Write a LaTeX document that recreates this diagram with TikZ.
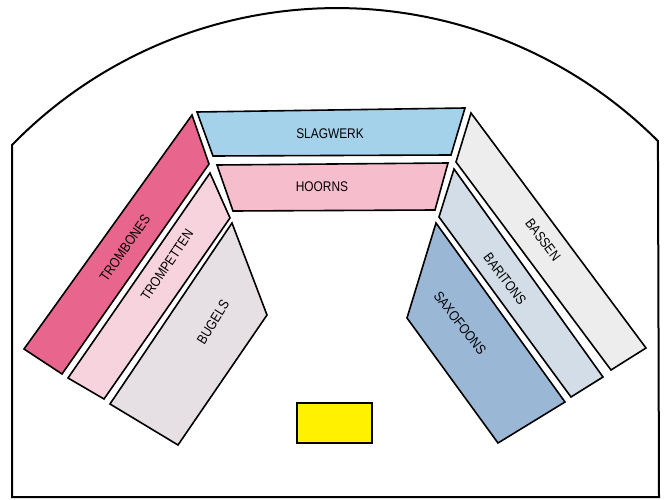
\documentclass[tikz,border=0pt]{standalone}
\usepackage{fontspec}
\setmainfont{Liberation Sans}[FakeStretch=0.85]
\definecolor{slag}{HTML}{A3D2EA}
\definecolor{hoorn}{HTML}{F6BDCD}
\definecolor{tromb}{HTML}{E8668E}
\definecolor{tromp}{HTML}{F7D3DD}
\definecolor{bugel}{HTML}{E6DFE3}
\definecolor{bassen}{HTML}{EDEDED}
\definecolor{bariton}{HTML}{D2DDE7}
\definecolor{saxo}{HTML}{9BB7D6}
\definecolor{dirig}{HTML}{FFF100}
\begin{document}
\begin{tikzpicture}[x=1pt,y=-1pt,
  band/.style={draw=black, line width=1.6pt, line join=miter},
  lbl/.style={font=\fontsize{14}{14}\selectfont, inner sep=0pt}]
\useasboundingbox (0,0) rectangle (667,500);
% hall outline
\draw[line width=2pt] (12,497) -- (12,145) arc[start angle=-135.7, end angle=-45, radius=454] -- (659,497) -- cycle;
% bands
\filldraw[band, fill=slag] (197,112) -- (465,108) -- (451,155) -- (213,156) -- cycle;
\filldraw[band, fill=hoorn] (217,165) -- (448,163) -- (435,210) -- (233,211) -- cycle;
\filldraw[band, fill=tromb] (192,115) -- (209,164) -- (62,374) -- (24,349) -- cycle;
\filldraw[band, fill=tromp] (210,173) -- (230,218) -- (104,399) -- (68,378) -- cycle;
\filldraw[band, fill=bugel] (232,223) -- (267,315) -- (178,445) -- (110,404) -- cycle;
\filldraw[band, fill=bassen] (471,113) -- (646,348) -- (611,370) -- (456,162) -- cycle;
\filldraw[band, fill=bariton] (454,169) -- (603,377) -- (571,397) -- (439,217) -- cycle;
\filldraw[band, fill=saxo] (436,223) -- (565,402) -- (498,443) -- (407,318) -- cycle;
\filldraw[draw=black, line width=1.6pt, fill=dirig] (297,403) rectangle (372,443);
% labels
\node[lbl] (slagwerk) at (330,134) {SLAGWERK};
\node[lbl] (hoorns) at (322,187) {HOORNS};
\node[lbl, rotate=55] (trombones) at (125,248) {TROMBONES};
\node[lbl, rotate=56] (trompetten) at (167,265) {TROMPETTEN};
\node[lbl, rotate=58] (bugels) at (213,322) {BUGELS};
\node[lbl, rotate=-53] (bassen) at (543,240) {BASSEN};
\node[lbl, rotate=-53] (baritons) at (505,279) {BARITONS};
\node[lbl, rotate=-52] (saxofoons) at (460,323) {SAXOFOONS};
\end{tikzpicture}
\end{document}
